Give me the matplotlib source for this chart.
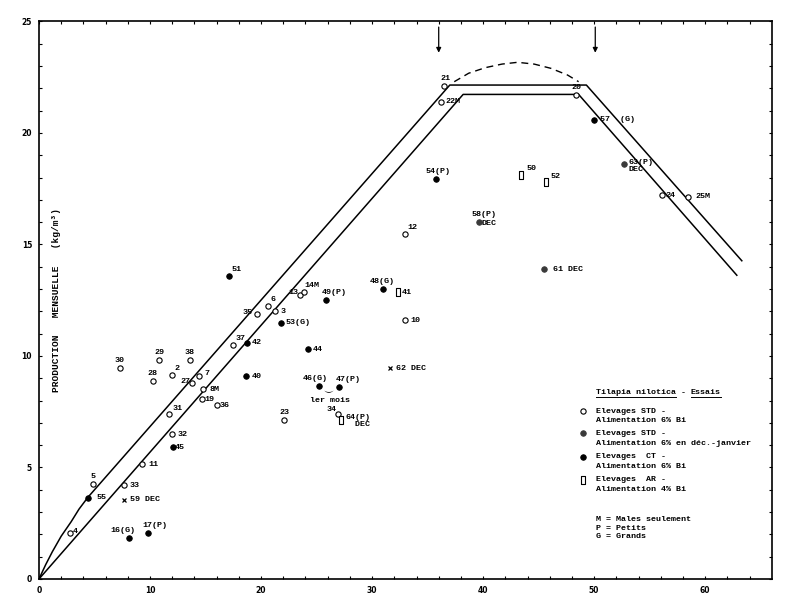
import numpy as np
import matplotlib
matplotlib.use("Agg")
import matplotlib.pyplot as plt
from matplotlib.lines import Line2D

# ------------------------------------------------------------------
# data
# ------------------------------------------------------------------
pt_ids = ['4', '5', '55', '33', '59', '16(G)', '17(P)', '11', '45', '32',
          '31', '19', '36', '8M', '7', '27', '38', '29', '2', '28',
          '30', '37', '42', '40', '35', '6', '3', '53(G)', '44', '46(G)',
          '47(P)', '23', '13', '14M', '49(P)', '48(G)', '41', '10', '62', '34',
          '64(P)', '12', '21', '22M', '20', '57(G)', '54(P)', '50', '52', '58(P)',
          '61', '63(P)', '24', '25M', '51']
pt_x = [2.8, 4.9, 4.45, 7.65, 7.65, 8.1, 9.8, 9.3, 12.05, 12.0,
        11.75, 14.65, 16.0, 14.8, 14.4, 13.8, 13.6, 10.85, 12.0, 10.25,
        7.3, 17.45, 18.7, 18.65, 19.6, 20.6, 21.3, 21.8, 24.2, 25.2,
        27.0, 22.1, 23.5, 23.85, 25.85, 30.95, 32.35, 32.95, 31.65, 26.9,
        27.2, 32.95, 36.5, 36.25, 48.4, 50.0, 35.75, 43.45, 45.65, 39.6,
        45.5, 52.65, 56.15, 58.45, 17.15]
pt_y = [2.05, 4.25, 3.65, 4.2, 3.55, 1.85, 2.05, 5.15, 5.9, 6.5,
        7.4, 8.05, 7.8, 8.5, 9.1, 8.8, 9.8, 9.8, 9.15, 8.9,
        9.45, 10.5, 10.6, 9.1, 11.9, 12.25, 12.0, 11.5, 10.3, 8.65,
        8.6, 7.15, 12.75, 12.85, 12.5, 13.0, 12.85, 11.6, 9.45, 7.4,
        7.15, 15.45, 22.1, 21.4, 21.7, 20.6, 17.95, 18.1, 17.8, 16.0,
        13.9, 18.6, 17.2, 17.15, 13.6]
# STD = open circle, DEC = STD dec.-janvier, CT = filled, AR = square, X = cross
pt_kind = ['STD', 'STD', 'CT', 'STD', 'X', 'CT', 'CT', 'STD', 'CT', 'STD',
           'STD', 'STD', 'STD', 'STD', 'STD', 'STD', 'STD', 'STD', 'STD', 'STD',
           'STD', 'STD', 'CT', 'CT', 'STD', 'STD', 'STD', 'CT', 'CT', 'CT',
           'CT', 'STD', 'STD', 'STD', 'CT', 'CT', 'AR', 'STD', 'X', 'STD',
           'AR', 'STD', 'STD', 'STD', 'STD', 'CT', 'CT', 'AR', 'AR', 'DEC',
           'DEC', 'DEC', 'STD', 'STD', 'CT']
pt_text = {'59': '59 DEC', '62': '62 DEC', '61': '61 DEC', '57(G)': '57  (G)',
           '64(P)': '64(P)\n  DEC', '63(P)': '63(P)\nDEC'}

# envelope lines
upper_x = [0, 0.6, 1.2, 2.0, 2.9, 3.6, 4.4, 37.0, 49.3, 63.3]
upper_y = [0, 0.64, 1.22, 1.92, 2.57, 3.13, 3.66, 22.15, 22.15, 14.27]
lower_x = [0, 38.2, 48.6, 62.85]
lower_y = [0, 21.73, 21.73, 13.62]

# dashed arc
arc_x = [37.4, 38.7, 40.2, 41.7, 43.1, 44.6, 46.1, 47.6, 48.6]
arc_y = [22.3, 22.68, 22.93, 23.09, 23.17, 23.09, 22.9, 22.6, 22.3]

arrow_x = [36.0, 50.1]

# ------------------------------------------------------------------
# label placement (offset in pixels, ha, va)
# ------------------------------------------------------------------
R = (5, 0, 'left', 'center')
lab_pos = {
    '4': (3, 2, 'left', 'center'), '5': (0, 4, 'center', 'bottom'),
    '55': (8, 0, 'left', 'center'), '33': (6, 0, 'left', 'center'),
    '59': (6, 0, 'left', 'center'), '16(G)': (-6, 4, 'center', 'bottom'),
    '17(P)': (7, 4, 'center', 'bottom'), '11': (6, 0, 'left', 'center'),
    '45': (2, 0, 'left', 'center'), '32': (5, 0, 'left', 'center'),
    '31': (3, 2, 'left', 'bottom'), '19': (3, 0, 'left', 'center'),
    '36': (3, 0, 'left', 'center'), '8M': (6, 0, 'left', 'center'),
    '7': (6, 3, 'left', 'center'), '27': (-2, 1, 'right', 'center'),
    '38': (0, 4, 'center', 'bottom'), '29': (0, 4, 'center', 'bottom'),
    '2': (2, 3, 'left', 'bottom'), '28': (0, 4, 'center', 'bottom'),
    '30': (0, 4, 'center', 'bottom'), '37': (3, 3, 'left', 'bottom'),
    '42': (5, 0, 'left', 'center'), '40': (6, 0, 'left', 'center'),
    '35': (-4, 1, 'right', 'center'), '6': (3, 3, 'left', 'bottom'),
    '3': (5, 0, 'left', 'center'), '53(G)': (4, 0, 'left', 'center'),
    '44': (5, 0, 'left', 'center'), '46(G)': (-4, 4, 'center', 'bottom'),
    '47(P)': (9, 4, 'center', 'bottom'), '23': (0, 4, 'center', 'bottom'),
    '13': (-2, 2, 'right', 'center'), '14M': (1, 3, 'left', 'bottom'),
    '49(P)': (8, 4, 'center', 'bottom'), '48(G)': (0, 4, 'center', 'bottom'),
    '41': (4, 0, 'left', 'center'), '10': (6, 0, 'left', 'center'),
    '62': (6, 0, 'left', 'center'), '34': (-1, 1, 'right', 'bottom'),
    '64(P)': (4, 6, 'left', 'top'), '12': (3, 3, 'left', 'bottom'),
    '21': (1, 4, 'center', 'bottom'), '22M': (4, 0, 'left', 'center'),
    '20': (0, 4, 'center', 'bottom'), '57(G)': (6, 0, 'left', 'center'),
    '54(P)': (2, 4, 'center', 'bottom'), '50': (5, 3, 'left', 'bottom'),
    '52': (5, 2, 'left', 'bottom'), '58(P)': (5, 4, 'center', 'bottom'),
    '61': (9, 0, 'left', 'center'), '63(P)': (5, 5, 'left', 'top'),
    '24': (3, 0, 'left', 'center'), '25M': (7, 0, 'left', 'center'),
    '51': (2, 3, 'left', 'bottom'),
}

MONO = 'Liberation Mono'
FS = 6.0

plt.rcParams['font.family'] = ['Liberation Mono', 'DejaVu Sans']

fig = plt.figure(figsize=(8.0, 6.09), dpi=100)
ax = fig.add_axes([0.04875, 0.0493, 0.916, 0.9154])
ax.set_xlim(0, 66)
ax.set_ylim(0, 25)

# envelope
ax.plot(upper_x, upper_y, color='black', lw=1.1)
ax.plot(lower_x, lower_y, color='black', lw=1.1)
ax.plot(arc_x, arc_y, color='black', lw=1.0, ls=(0, (5, 3.5)))

for xa in arrow_x:
    ax.annotate('', xy=(xa, 23.6), xytext=(xa, 24.75),
                arrowprops=dict(arrowstyle='-|>', color='black', lw=0.9,
                                mutation_scale=7, shrinkA=0, shrinkB=0))

# markers
rect = [(-0.6, -1), (0.6, -1), (0.6, 1), (-0.6, 1), (-0.6, -1)]
styles = {
    'STD': dict(marker='o', ms=3.8, mfc='white', mec='black', mew=0.8),
    'DEC': dict(marker='o', ms=4.0, mfc='#3a3a3a', mec='#3a3a3a', mew=0.6),
    'CT': dict(marker='o', ms=4.0, mfc='black', mec='black', mew=0.6),
    'AR': dict(marker=rect, ms=5.5, mfc='white', mec='black', mew=0.8),
    'X': dict(marker='x', ms=3.5, mec='black', mew=0.9),
}
for pid, x, y, k in zip(pt_ids, pt_x, pt_y, pt_kind):
    ax.plot([x], [y], ls='none', zorder=3, **styles[k])
    dx, dy, ha, va = lab_pos.get(pid, R)
    ax.annotate(pt_text.get(pid, pid), (x, y), xytext=(dx, dy),
                textcoords='offset pixels', ha=ha, va=va, fontsize=FS,
                fontweight='bold', family=MONO, linespacing=1.0)

# extra notes
i58 = pt_ids.index('58(P)')
ax.annotate('DEC', (pt_x[i58], pt_y[i58]), xytext=(3, -1), textcoords='offset pixels',
            ha='left', va='center', fontsize=FS, fontweight='bold', family=MONO)
i46, i47 = pt_ids.index('46(G)'), pt_ids.index('47(P)')
mid_x = (pt_x[i46] + pt_x[i47]) / 2
mid_y = (pt_y[i46] + pt_y[i47]) / 2
ax.annotate(r'$\smile$', (mid_x, mid_y), xytext=(0, -4), textcoords='offset pixels',
            ha='center', va='center', fontsize=7)
ax.annotate('ler mois', (mid_x, mid_y), xytext=(1, -14), textcoords='offset pixels',
            ha='center', va='center', fontsize=FS, fontweight='bold', family=MONO)

# axis label inside the frame
ax.text(1.6, 12.5, 'PRODUCTION   MENSUELLE   (kg/m³)', rotation=90,
        ha='center', va='center', fontsize=6.8, fontweight='bold', family=MONO)

# ticks
ax.set_xticks(np.arange(0, 61, 10))
ax.set_xticks(np.arange(0, 66, 2), minor=True)
ax.set_yticks(np.arange(0, 26, 5))
ax.set_yticks(np.arange(0, 26, 1), minor=True)
ax.tick_params(which='both', direction='in', top=True, right=True,
               length=2.5, width=0.8, labelsize=5.5, pad=5)
for lab in ax.get_xticklabels() + ax.get_yticklabels():
    lab.set_fontweight('bold')
    lab.set_family('DejaVu Sans')
for s in ax.spines.values():
    s.set_linewidth(1.2)

# legend block (drawn by hand, typewriter style)
LX_M, LX_T = 0.742, 0.7595
leg_rows = [
    ('STD', 0.301, ['Elevages STD -', 'Alimentation 6% Bi']),
    ('DEC', 0.261, ['Elevages STD -', 'Alimentation 6% en déc.-janvier']),
    ('CT', 0.219, ['Elevages  CT -', 'Alimentation 6% Bi']),
    ('AR', 0.1776, ['Elevages  AR -', 'Alimentation 4% Bi']),
]
line_gap = 0.0172
for k, yy, lines in leg_rows:
    ax.plot([LX_M], [yy], ls='none', transform=ax.transAxes, clip_on=False, **styles[k])
    for j, t in enumerate(lines):
        ax.text(LX_T, yy - j * line_gap, t, transform=ax.transAxes, ha='left',
                va='center', fontsize=FS, fontweight='bold', family=MONO)
for t, yy in [('M = Males seulement', 0.1058), ('P = Petits', 0.0909), ('G = Grands', 0.0759)]:
    ax.text(LX_T, yy, t, transform=ax.transAxes, ha='left', va='center',
            fontsize=FS, fontweight='bold', family=MONO)

# title with underlined words
t1 = ax.text(LX_T, 0.334, 'Tilapia nilotica', transform=ax.transAxes, ha='left',
             va='center', fontsize=FS, fontweight='bold', family=MONO)
fig.canvas.draw()
r = fig.canvas.get_renderer()
bb1 = t1.get_window_extent(r)
x_next = ax.transAxes.inverted().transform((bb1.x1, bb1.y0))[0]
t2 = ax.text(x_next, 0.334, ' - ', transform=ax.transAxes, ha='left',
             va='center', fontsize=FS, fontweight='bold', family=MONO)
fig.canvas.draw()
bb2 = t2.get_window_extent(r)
x_next2 = ax.transAxes.inverted().transform((bb2.x1, bb2.y0))[0]
t3 = ax.text(x_next2, 0.334, 'Essais', transform=ax.transAxes, ha='left',
             va='center', fontsize=FS, fontweight='bold', family=MONO)
fig.canvas.draw()
for t in (t1, t3):
    bb = t.get_window_extent(r)
    yline = bb.y0 - 1
    fig.add_artist(Line2D([bb.x0 / fig.dpi / fig.get_figwidth(), bb.x1 / fig.dpi / fig.get_figwidth()],
                          [yline / fig.dpi / fig.get_figheight()] * 2,
                          color='black', lw=0.7, transform=fig.transFigure))

fig.savefig('out.png', dpi=100)
